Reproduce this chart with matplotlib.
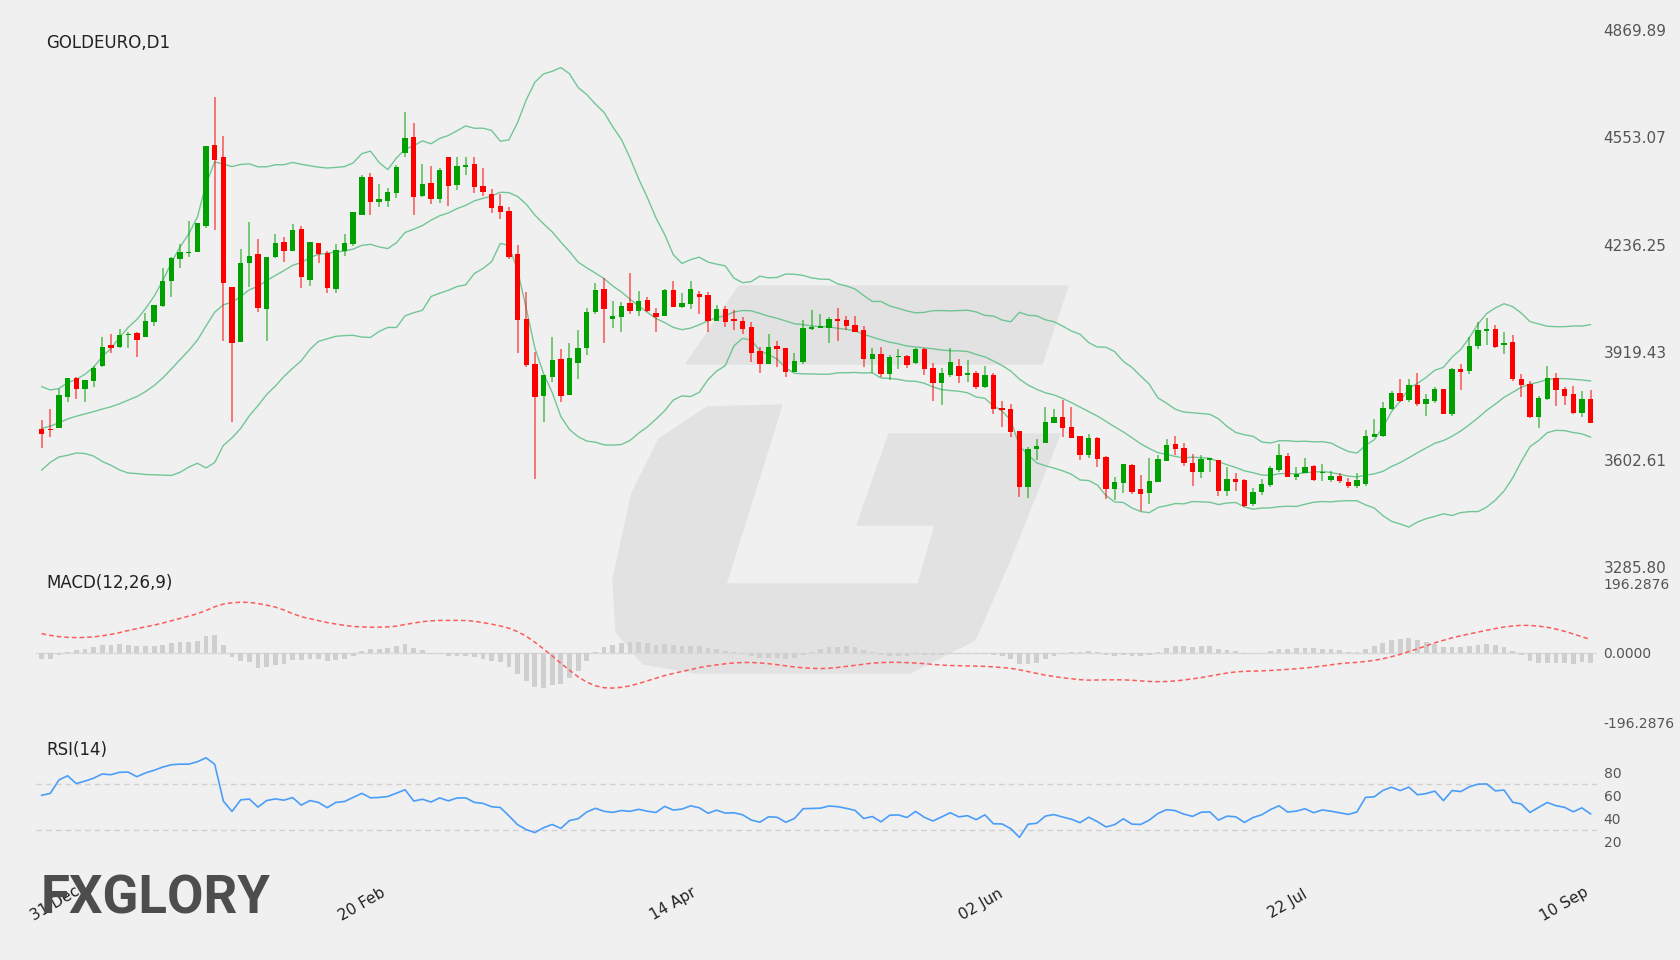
import numpy as np
import pandas as pd
import matplotlib
matplotlib.use("Agg")
import matplotlib.pyplot as plt
from matplotlib.patches import Polygon
from matplotlib.transforms import blended_transform_factory

opens = [3692,3692,3695,3787,3843,3811,3835,3879,3940,3934,3970,3976,3964,4008,4055,4130,4194,4212,4215,4291,
 4530,4495,4112,3949,4183,4209,4046,4200,4244,4218,4282,4132,4241,4212,4106,4218,4238,4324,4436,4362,
 4365,4389,4507,4554,4380,4419,4371,4495,4413,4466,4475,4410,4386,4350,4336,4209,4017,3885,3790,3846,
 3899,3793,3888,3931,4038,4106,4017,4023,4064,4041,4073,4035,4026,4103,4052,4061,4091,4088,4011,4046,
 4017,4011,3993,3923,3885,3937,3931,3861,3891,3987,3990,3990,4017,4014,3999,3984,3899,3914,3855,3905,
 3908,3888,3928,3873,3828,3852,3879,3852,3858,3817,3852,3754,3751,3687,3521,3633,3651,3710,3728,3698,
 3672,3616,3666,3610,3516,3533,3587,3516,3504,3537,3599,3648,3636,3593,3566,3601,3601,3510,3545,3542,
 3471,3507,3528,3572,3613,3551,3563,3584,3563,3542,3554,3537,3525,3531,3669,3672,3751,3799,3778,3822,
 3766,3775,3811,3737,3870,3864,3937,3982,3987,3940,3949,3840,3825,3728,3781,3843,3811,3796,3740,3781]
highs = [3719,3751,3811,3843,3846,3837,3879,3964,3973,3987,3979,3979,4035,4058,4168,4200,4238,4306,4300,4527,
 4672,4557,4112,4223,4303,4253,4200,4268,4259,4297,4291,4244,4241,4218,4238,4268,4333,4442,4448,4416,
 4404,4472,4628,4595,4475,4469,4463,4495,4495,4495,4495,4463,4401,4386,4347,4235,4097,3920,3852,3964,
 3928,3946,3984,4049,4124,4138,4070,4067,4153,4100,4082,4049,4106,4130,4094,4130,4100,4097,4058,4055,
 4043,4023,4008,3934,3973,3952,3931,3917,4014,4043,4032,4023,4049,4026,4026,3996,3931,3934,3911,3928,
 3911,3931,3931,3888,3873,3931,3899,3896,3864,3879,3858,3775,3766,3687,3639,3663,3757,3751,3778,3757,
 3672,3678,3669,3613,3551,3590,3590,3557,3607,3616,3663,3672,3651,3619,3616,3607,3601,3581,3563,3545,
 3519,3545,3584,3648,3622,3581,3607,3587,3590,3569,3563,3548,3563,3690,3722,3772,3805,3840,3840,3858,
 3796,3817,3811,3873,3885,3964,4008,4020,3999,3979,3970,3855,3835,3790,3879,3858,3817,3820,3805,3808]
lows = [3636,3669,3695,3772,3781,3772,3817,3876,3917,3931,3931,3905,3964,3996,4052,4082,4168,4200,4215,4285,
 4279,3952,3713,3949,4112,4038,3952,4197,4186,4218,4109,4115,4183,4094,4094,4203,4232,4324,4324,4347,
 4347,4374,4495,4324,4377,4356,4359,4350,4398,4442,4389,4380,4330,4312,4194,3917,3876,3545,3713,3832,
 3772,3793,3840,3911,4032,3946,3990,3979,4032,4026,4038,3979,4026,4052,4049,4046,4032,3979,4011,3993,
 3984,3973,3891,3858,3885,3876,3846,3861,3885,3984,3990,3946,3952,3984,3979,3876,3858,3846,3837,3870,
 3873,3885,3852,3775,3763,3846,3828,3832,3811,3814,3737,3698,3669,3492,3489,3601,3651,3710,3669,3666,
 3601,3607,3580,3486,3483,3504,3501,3451,3471,3537,3599,3616,3584,3525,3548,3566,3495,3495,3510,3462,
 3466,3498,3522,3566,3551,3542,3563,3540,3540,3537,3534,3519,3519,3525,3669,3669,3748,3772,3772,3760,
 3731,3769,3737,3731,3808,3855,3928,3940,3931,3914,3835,3787,3725,3695,3778,3760,3763,3737,3728,3710]
closes = [3678,3689,3793,3843,3811,3837,3873,3934,3931,3970,3973,3955,4011,4058,4130,4197,4215,4215,4300,4527,
 4486,4124,3946,4183,4203,4049,4200,4241,4218,4279,4141,4244,4209,4109,4221,4241,4333,4436,4362,4371,
 4392,4466,4551,4377,4416,4371,4457,4410,4469,4472,4407,4392,4344,4333,4200,4014,3882,3787,3852,3896,
 3790,3902,3931,4038,4103,4046,4026,4055,4041,4070,4041,4023,4103,4052,4064,4106,4082,4011,4046,4008,
 4011,3987,3917,3885,3934,3928,3861,3894,3990,3993,3996,4017,4011,3996,3979,3899,3914,3855,3905,3908,
 3882,3928,3870,3828,3858,3891,3849,3858,3817,3852,3751,3748,3684,3521,3633,3642,3713,3728,3695,3666,
 3616,3666,3604,3516,3536,3590,3507,3501,3540,3604,3645,3634,3593,3566,3604,3607,3510,3545,3537,3466,
 3507,3531,3578,3616,3551,3560,3581,3542,3566,3554,3540,3525,3542,3672,3678,3754,3799,3775,3822,3766,
 3781,3811,3737,3870,3861,3937,3984,3987,3934,3946,3840,3822,3728,3784,3843,3808,3790,3740,3781,3710]
# estimated closes of the sessions before 31 Dec (indicator warm-up)
history_closes = [3420,3440,3450,3430,3460,3480,3470,3500,3510,3490,3520,3530,3540,3520,3550,3545,
 3560,3590,3620,3650,3700,3740,3780,3800,3790,3760,3740,3720,3700,3680,3670,3660,3680,3690,3685]

tick_labels = ["31 Dec", "20 Feb", "14 Apr", "02 Jun", "22 Jul", "10 Sep"]
tick_pos = [1.5, 37, 73, 108.5, 144, 176]
price_ticks = [3285.80, 3602.61, 3919.43, 4236.25, 4553.07, 4869.89]
macd_ticks = [-196.2876, 0.0, 196.2876]
rsi_ticks = [20, 40, 60, 80]

n = len(closes)
x = np.arange(n)
allc = pd.Series(history_closes + closes, dtype=float)
h = len(history_closes)
mid = allc.rolling(20).mean()
sd = allc.rolling(20).std(ddof=0)
upper = (mid + 2 * sd).values[h:]
lower = (mid - 2 * sd).values[h:]
mid = mid.values[h:]
ema12 = allc.ewm(span=12, adjust=False).mean()
ema26 = allc.ewm(span=26, adjust=False).mean()
macd = ema12 - ema26
signal = macd.rolling(9).mean()
osma = (macd - signal).values[h:]
signal = signal.values[h:]
d = allc.diff()
up = d.clip(lower=0).ewm(alpha=1/14, adjust=False).mean()
dn = (-d.clip(upper=0)).ewm(alpha=1/14, adjust=False).mean()
rsi = (100 - 100 / (1 + up / dn)).values[h:]

BG = "#f0f0f0"
fig = plt.figure(figsize=(16.8, 9.6), dpi=100, facecolor=BG)

W, H = 1680.0, 960.0
def P(pts):
    return [(px / W, 1 - py / H) for px, py in pts]
wm = "#e2e2e2"
fig.add_artist(Polygon(P([(686,364),(739,286),(1068,286),(1042,364)]), closed=True,
                       transform=fig.transFigure, color=wm, zorder=0))
fig.add_artist(Polygon(P([(782,405),(707,407),(659,439),(632,493),(613,579),(616,632),(643,664),
                          (696,673),(910,673),(975,640),(1010,560),(1060,434),(889,434),(857,525),
                          (935,525),(918,584),(726,584)]), closed=True,
                       transform=fig.transFigure, color=wm, zorder=0))

L, Wd = 35.6 / W, 1561 / W
axp = fig.add_axes([L, 0.4094, Wd, 0.5594])
axm = fig.add_axes([L, 0.2469, Wd, 0.1458])
axr = fig.add_axes([L, 0.0990, Wd, 0.1198])
for a in (axp, axm, axr):
    a.set_facecolor("none")
    for s in a.spines.values():
        s.set_visible(False)
    a.set_xlim(-0.7, n - 0.3)
    a.set_xticks([])
    a.yaxis.tick_right()
    a.tick_params(axis="y", length=0, pad=5, labelcolor="#555555")

# candles
green, red = "#00a000", "#ff0000"
for i in range(n):
    c = green if closes[i] >= opens[i] else red
    axp.vlines(x[i], lows[i], highs[i], color=c, lw=1.3, alpha=0.55, zorder=2)
    b0, b1 = sorted([opens[i], closes[i]])
    axp.bar(x[i], max(b1 - b0, 3), bottom=b0, width=0.62, color=c, zorder=3)
bc = "#5cbf85"
for band in (upper, mid, lower):
    axp.plot(x, band, color=bc, lw=1.0, alpha=0.85, zorder=1)
axp.set_ylim(3285.80, 4869.89)
axp.set_yticks(price_ticks)
axp.set_yticklabels([f"{v:.2f}" for v in price_ticks], fontsize=11)
axp.text(0.007, 0.975, "GOLDEURO,D1", transform=axp.transAxes, fontsize=12, color="#222222",
         va="center", ha="left")

# MACD
axm.axhline(0, color="#d9d9d9", lw=1, zorder=0)
axm.bar(x, osma, width=0.55, color="#cfcfcf", zorder=1)
axm.plot(x, signal, color="#ff5a5a", lw=1.1, ls=(0, (3, 2)), zorder=2)
axm.set_ylim(-196.2876, 196.2876)
axm.set_yticks(macd_ticks)
axm.set_yticklabels([f"{v:.4f}" for v in macd_ticks], fontsize=10)
axm.text(0.007, 1.0, "MACD(12,26,9)", transform=axm.transAxes, fontsize=12, color="#222222",
         va="center", ha="left")

# RSI
for lvl in (70, 30):
    axr.axhline(lvl, color="#d0d0d0", lw=1, ls=(0, (4, 3)), zorder=0)
axr.plot(x, rsi, color="#4a9df8", lw=1.2, zorder=2)
axr.set_ylim(0, 100)
axr.set_yticks(rsi_ticks)
axr.set_yticklabels([str(v) for v in rsi_ticks], fontsize=10)
axr.text(0.007, 1.0, "RSI(14)", transform=axr.transAxes, fontsize=12, color="#222222",
         va="center", ha="left")

tr = blended_transform_factory(axr.transData, axr.transAxes)
for p, lab in zip(tick_pos, tick_labels):
    axr.text(p, -0.34, lab, transform=tr, rotation=30, ha="center", va="center",
             rotation_mode="anchor", fontsize=11, color="#222222")

fig.text(41 / W, 1 - 913 / H, "FXGLORY", fontsize=38, fontweight="bold", family="Roboto",
         color="#4d4d4d", ha="left", va="baseline")

fig.savefig("out.png", dpi=100, facecolor=BG)
